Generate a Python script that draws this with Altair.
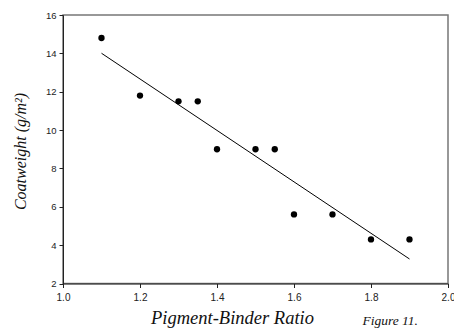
import altair as alt
import pandas as pd

ratio = [1.1, 1.2, 1.3, 1.35, 1.4, 1.5, 1.55, 1.6, 1.7, 1.8, 1.9]
coatweight = [14.8, 11.8, 11.5, 11.5, 9.0, 9.0, 9.0, 5.6, 5.6, 4.3, 4.3]
x_ticks = [1.0, 1.2, 1.4, 1.6, 1.8, 2.0]
y_ticks = [2, 4, 6, 8, 10, 12, 14, 16]

df = pd.DataFrame({"ratio": ratio, "coat": coatweight})

xs = alt.Scale(domain=[1.0, 2.0], nice=False, zero=False)
ys = alt.Scale(domain=[2, 16], nice=False, zero=False)

xaxis = alt.Axis(values=x_ticks, format=".1f", title="Pigment-Binder Ratio",
                 grid=False, tickSize=4, labelPadding=5, labelFont="Liberation Sans",
                 labelFontSize=10, labelColor="#222", domainColor="#222", tickColor="#222",
                 labelOverlap=False, labelFlush=False, tickCount=6,
                 titleFont="Liberation Serif", titleFontStyle="italic", titleFontWeight="normal",
                 titleFontSize=18.5, titleColor="#111", titleX=169, titleY=40,
                 titleBaseline="alphabetic", titleAlign="center")
yaxis = alt.Axis(values=y_ticks, format="d", title="Coatweight (g/m²)",
                 grid=False, tickSize=4, labelPadding=3, labelFont="Liberation Sans",
                 labelFontSize=9.5, labelColor="#222", domainColor="#222", tickColor="#222",
                 labelOverlap=False, labelFlush=False, tickCount=8,
                 titleFont="Liberation Serif", titleFontStyle="italic", titleFontWeight="normal",
                 titleFontSize=16, titleColor="#111", titleX=-43, titleY=136,
                 titleBaseline="middle", titleAlign="center", titleAngle=270)

enc_x = alt.X("ratio:Q", scale=xs, axis=xaxis)
enc_y = alt.Y("coat:Q", scale=ys, axis=yaxis)

line = alt.Chart(df).transform_regression("ratio", "coat").mark_line(
    color="black", strokeWidth=1
).encode(x=enc_x, y=enc_y)

pts = alt.Chart(df).mark_circle(color="black", opacity=1, size=40).encode(
    x=enc_x, y=enc_y,
)

fig = alt.Chart(pd.DataFrame({"t": ["Figure 11."]})).mark_text(
    font="Liberation Serif", fontStyle="italic", fontSize=13.5, align="right",
    baseline="alphabetic", color="#111"
).encode(text="t:N", x=alt.value(355), y=alt.value(310))

chart = alt.layer(line, pts, fig).properties(
    width=385, height=268.5,
    padding={"left": 63, "top": 15, "right": 6, "bottom": 45.5},
    autosize=alt.AutoSizeParams(type="none"),
    background="white",
).configure_view(stroke="#777", strokeWidth=1.5)

chart.save("out.html", embed_options={"renderer": "svg", "actions": False})
